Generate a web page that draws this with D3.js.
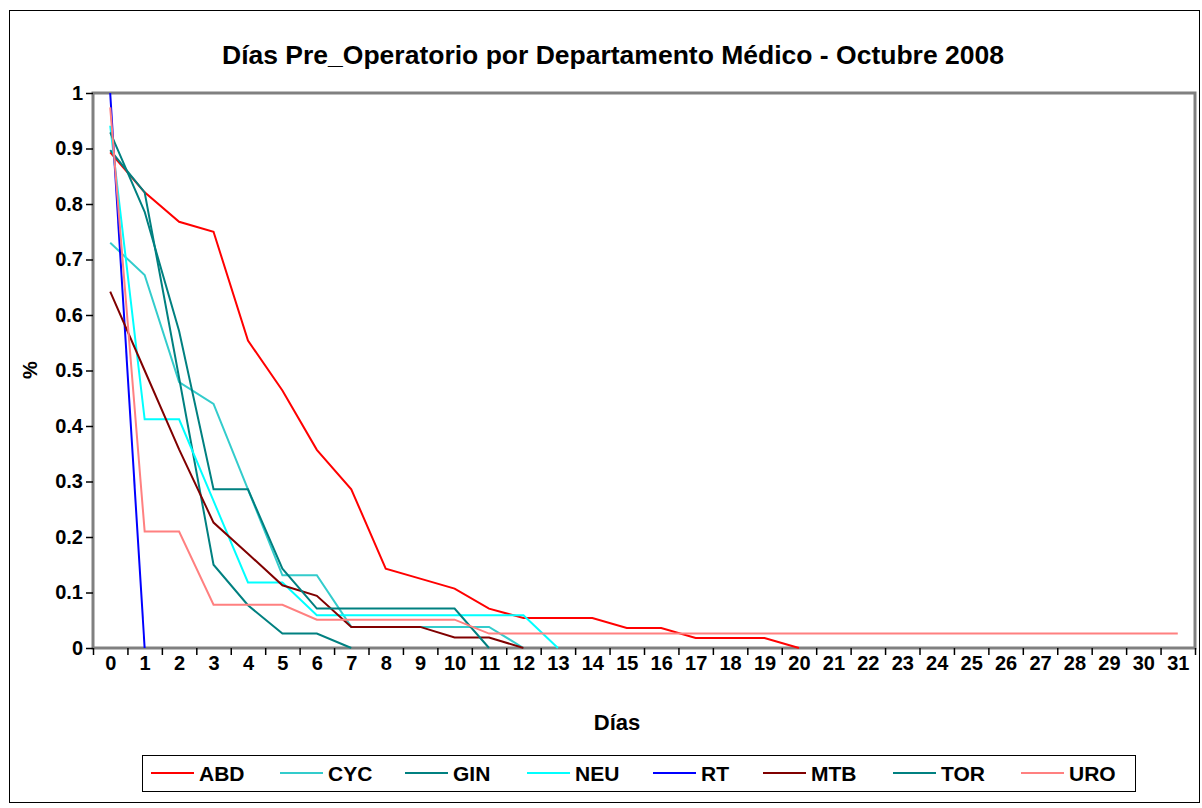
<!DOCTYPE html>
<html>
<head>
<meta charset="utf-8">
<script src="https://cdn.jsdelivr.net/npm/d3@7"></script>
<style>
  body { margin: 0; background: #fff; }
  text { font-family: "Liberation Sans", Arial, sans-serif; font-weight: bold; fill: #000; }
</style>
</head>
<body>
<script>
// days on the x axis
var dias = d3.range(0, 32);
var yTicks = [0, 0.1, 0.2, 0.3, 0.4, 0.5, 0.6, 0.7, 0.8, 0.9, 1];

// share of patients still waiting, per department
var ABD = [0.893, 0.821, 0.768, 0.75, 0.554, 0.464, 0.357, 0.286, 0.143, 0.125, 0.107, 0.071, 0.054, 0.054, 0.054, 0.036, 0.036, 0.018, 0.018, 0.018, 0];
var CYC = [0.73, 0.672, 0.479, 0.44, 0.286, 0.131, 0.131, 0.038, 0.038, 0.038, 0.038, 0.038, 0];
var GIN = [0.897, 0.821, 0.487, 0.15, 0.077, 0.026, 0.026, 0];
var NEU = [0.941, 0.412, 0.412, 0.265, 0.118, 0.118, 0.059, 0.059, 0.059, 0.059, 0.059, 0.059, 0.059, 0];
var RT  = [1, 0];
var MTB = [0.642, 0.5, 0.358, 0.226, 0.17, 0.113, 0.094, 0.038, 0.038, 0.038, 0.019, 0.019, 0];
var TOR = [0.929, 0.786, 0.571, 0.286, 0.286, 0.143, 0.071, 0.071, 0.071, 0.071, 0.071, 0];
var URO = [0.974, 0.21, 0.21, 0.078, 0.078, 0.078, 0.051, 0.051, 0.051, 0.051, 0.051, 0.026,
           0.026, 0.026, 0.026, 0.026, 0.026, 0.026, 0.026, 0.026, 0.026, 0.026, 0.026, 0.026,
           0.026, 0.026, 0.026, 0.026, 0.026, 0.026, 0.026, 0.026];

var series = [
  {name: "ABD", values: ABD, color: "#ff0000"},
  {name: "CYC", values: CYC, color: "#33cccc"},
  {name: "GIN", values: GIN, color: "#008080"},
  {name: "NEU", values: NEU, color: "#00ffff"},
  {name: "RT",  values: RT,  color: "#0000ff"},
  {name: "MTB", values: MTB, color: "#800000"},
  {name: "TOR", values: TOR, color: "#008080"},
  {name: "URO", values: URO, color: "#ff8080"}
];

var W = 1202, H = 808;
var plot = {left: 93, right: 1195, top: 93, bottom: 648};

var svg = d3.select("body").append("svg")
    .attr("width", W)
    .attr("height", H);

// outer frame
svg.append("rect")
    .attr("x", 9.5).attr("y", 10.5)
    .attr("width", 1190).attr("height", 792)
    .attr("fill", "#fff")
    .attr("stroke", "#000")
    .attr("stroke-width", 1);

// scales: categories centred between tick marks like Excel
var x = d3.scaleLinear().domain([-0.5, 31.5]).range([plot.left, plot.right]);
var y = d3.scaleLinear().domain([0, 1]).range([plot.bottom, plot.top]);

// title
svg.append("text")
    .attr("x", 613).attr("y", 64)
    .attr("text-anchor", "middle")
    .style("font-size", "26.5px")
    .text("Días Pre_Operatorio por Departamento Médico - Octubre 2008");

// plot area border
svg.append("rect")
    .attr("x", plot.left).attr("y", plot.top)
    .attr("width", plot.right - plot.left)
    .attr("height", plot.bottom - plot.top)
    .attr("fill", "none")
    .attr("stroke", "#808080")
    .attr("stroke-width", 3);

// x axis: tick marks at category boundaries
var xTickAxis = svg.append("g")
    .attr("transform", "translate(0," + plot.bottom + ")")
    .call(d3.axisBottom(x)
        .tickValues(d3.range(-0.5, 32, 1))
        .tickSize(7)
        .tickFormat(""));
xTickAxis.select(".domain").remove();
xTickAxis.selectAll("line").attr("stroke", "#000").attr("stroke-width", 1.5);

// x labels
var xLabAxis = svg.append("g")
    .attr("transform", "translate(0," + plot.bottom + ")")
    .call(d3.axisBottom(x)
        .tickValues(dias)
        .tickSize(0)
        .tickPadding(8)
        .tickFormat(d3.format("d")));
xLabAxis.select(".domain").remove();
xLabAxis.selectAll("text")
    .style("font-size", "20px")
    .style("font-family", "'Liberation Sans', Arial, sans-serif")
    .style("font-weight", "bold");

// y axis
var yAxis = svg.append("g")
    .attr("transform", "translate(" + plot.left + ",0)")
    .call(d3.axisLeft(y)
        .tickValues(yTicks)
        .tickSize(7)
        .tickPadding(3)
        .tickFormat(d3.format("")));
yAxis.select(".domain").remove();
yAxis.selectAll("line").attr("stroke", "#000").attr("stroke-width", 1.5);
yAxis.selectAll("text")
    .style("font-size", "20px")
    .style("font-family", "'Liberation Sans', Arial, sans-serif")
    .style("font-weight", "bold");

// axis titles
svg.append("text")
    .attr("x", 617).attr("y", 730)
    .attr("text-anchor", "middle")
    .style("font-size", "22px")
    .text("Días");

svg.append("text")
    .attr("transform", "translate(37,370) rotate(-90)")
    .attr("text-anchor", "middle")
    .style("font-size", "20px")
    .text("%");

// lines
var line = d3.line()
    .defined(function(d) { return d != null; })
    .x(function(d, i) { return x(i); })
    .y(function(d) { return y(d); });

svg.append("g").selectAll("path")
    .data(series)
    .enter().append("path")
    .attr("d", function(s) { return line(s.values); })
    .attr("fill", "none")
    .attr("stroke", function(s) { return s.color; })
    .attr("stroke-width", 2);

// legend
var legX = [151, 280, 405, 527, 653, 763, 893, 1021];
svg.append("rect")
    .attr("x", 142.5).attr("y", 755.5)
    .attr("width", 993).attr("height", 36)
    .attr("fill", "#fff")
    .attr("stroke", "#000")
    .attr("stroke-width", 1);

var leg = svg.append("g").selectAll("g")
    .data(series)
    .enter().append("g")
    .attr("transform", function(s, i) { return "translate(" + legX[i] + ",773)"; });

leg.append("line")
    .attr("x1", 0).attr("x2", 43)
    .attr("stroke", function(s) { return s.color; })
    .attr("stroke-width", 2);

leg.append("text")
    .attr("x", 48).attr("y", 7.5)
    .style("font-size", "21px")
    .text(function(s) { return s.name; });
</script>
</body>
</html>
